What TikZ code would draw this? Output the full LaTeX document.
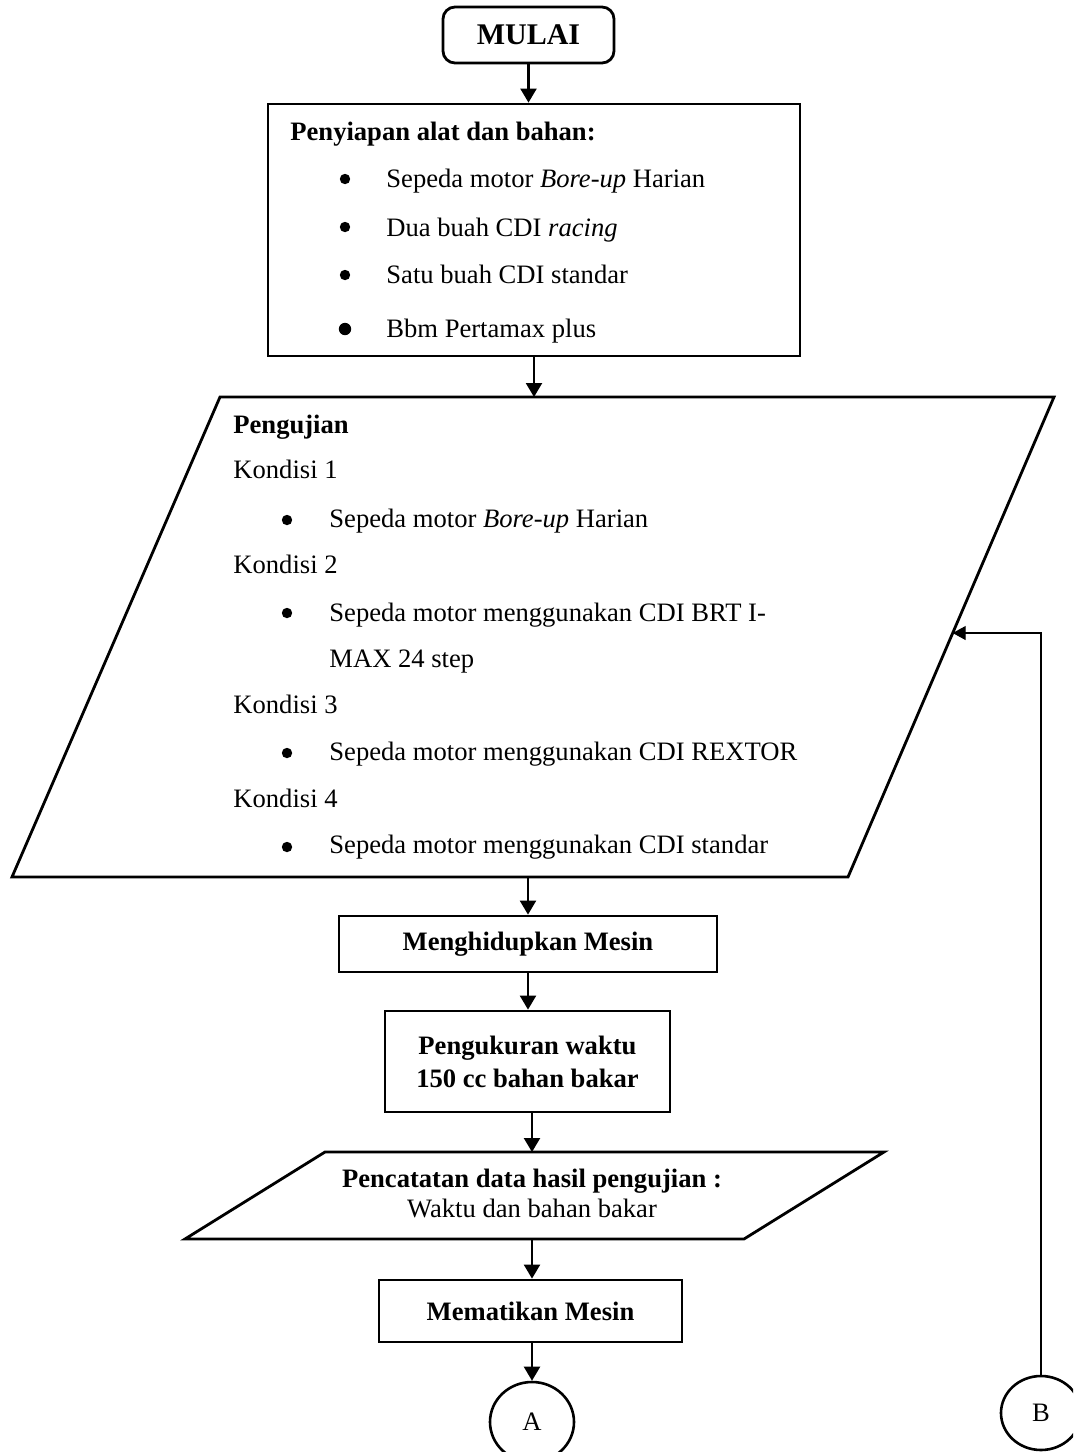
\documentclass[tikz,border=0pt]{standalone}
\usepackage{fontspec}
\setmainfont{Liberation Serif}
\usetikzlibrary{arrows.meta,calc,shapes.geometric}
\begin{document}
\begin{tikzpicture}[x=0.5pt,y=-0.5pt,
  every node/.style={font=\fontsize{13.3}{16.5}\selectfont, inner sep=0pt},
  box/.style={draw, rectangle, line width=1.4pt, inner sep=0pt},
  shape line/.style={line width=1.4pt, line join=miter},
  arr/.style={-{Triangle[length=7pt,width=8pt]}, line width=1.1pt},
  thinarr/.style={-{Triangle[length=6.5pt,width=7pt]}, line width=0.6pt},
  txt/.style={anchor=base west},
  bfnode/.style={font=\fontsize{13.3}{16.5}\selectfont\bfseries},
  bul/.style={circle, fill=black, minimum size=5.2pt},
  bigbul/.style={circle, fill=black, minimum size=6.2pt},
  conn/.style={draw, ellipse, line width=1.3pt, inner sep=0pt},
]
\clip (0,0) rectangle (1073,1452);
\fill[white] (0,0) rectangle (1073,1452);

% start terminal
\node[box, rounded corners=6pt, minimum width=85.5pt, minimum height=28pt,
      font=\fontsize{15}{18}\selectfont\bfseries] (mulai) at (528.5,35) {MULAI};

% preparation box
\node[box, minimum width=266pt, minimum height=126pt] (prep) at (534,230) {};
\node[txt, bfnode] (prep-h) at (290,140) {Penyiapan alat dan bahan:};
\node[bul] (pb1) at (345,179) {};
\node[txt] (pt1) at (386,187) {Sepeda motor \textit{Bore-up} Harian};
\node[bul] (pb2) at (345,227) {};
\node[txt] (pt2) at (386,236) {Dua buah CDI \textit{racing}};
\node[bul] (pb3) at (345,275) {};
\node[txt] (pt3) at (386,283) {Satu buah CDI standar};
\node[bigbul] (pb4) at (345,329) {};
\node[txt] (pt4) at (386,337) {Bbm Pertamax plus};

% testing conditions (input/output parallelogram)
\coordinate (uji-tl) at (220,397);
\coordinate (uji-tr) at (1054,397);
\coordinate (uji-br) at (848,877);
\coordinate (uji-bl) at (12,877);
\draw[shape line] (uji-tl) -- (uji-tr) -- (uji-br) -- (uji-bl) -- cycle;
\coordinate (uji-n) at (534,397);
\coordinate (uji-s) at (528,877);
\coordinate (uji-e) at ($(uji-tr)!0.4917!(uji-br)$);

\node[txt, bfnode] (uh) at (233,433) {Pengujian};
\node[txt] (k1) at (233,478) {Kondisi 1};
\node[bul] (ub1) at (287,520) {};
\node[txt] (ut1) at (329,527) {Sepeda motor \textit{Bore-up} Harian};
\node[txt] (k2) at (233,573) {Kondisi 2};
\node[bul] (ub2) at (287,613) {};
\node[txt] (ut2) at (329,621) {Sepeda motor menggunakan CDI BRT I-};
\node[txt] (ut2b) at (329,667) {MAX 24 step};
\node[txt] (k3) at (233,713) {Kondisi 3};
\node[bul] (ub3) at (287,753) {};
\node[txt] (ut3) at (329,760) {Sepeda motor menggunakan CDI REXTOR};
\node[txt] (k4) at (233,807) {Kondisi 4};
\node[bul] (ub4) at (287,847) {};
\node[txt] (ut4) at (329,853) {Sepeda motor menggunakan CDI standar};

% process steps
\node[box, minimum width=189pt, minimum height=28pt, bfnode] (hidup) at (528,944)
      {Menghidupkan Mesin};
\node[box, minimum width=142.5pt, minimum height=50.5pt, bfnode, align=center]
      (ukur) at (527.5,1061.5) {Pengukuran waktu\\150 cc bahan bakar};

% data recording parallelogram
\coordinate (cat-tl) at (325,1152);
\coordinate (cat-tr) at (884,1152);
\coordinate (cat-br) at (744,1239);
\coordinate (cat-bl) at (185,1239);
\draw[shape line] (cat-tl) -- (cat-tr) -- (cat-br) -- (cat-bl) -- cycle;
\coordinate (cat-n) at (532,1152);
\coordinate (cat-s) at (532,1239);
\node[anchor=base, bfnode] (cat1) at (532,1187) {Pencatatan data hasil pengujian :};
\node[anchor=base] (cat2) at (532,1217) {Waktu dan bahan bakar};

\node[box, minimum width=151.5pt, minimum height=31pt, bfnode] (mati) at (530.5,1311)
      {Mematikan Mesin};

% off-page connectors
\node[conn, minimum width=42pt, minimum height=40pt] (A) at (532,1422) {A};
\node[conn, minimum width=40pt, minimum height=37pt] (B) at (1041,1413) {B};

% flow lines
\draw[arr] (mulai.south) -- (mulai.south |- prep.north);
\draw[arr] (prep.south) -- (prep.south |- uji-n);
\draw[arr] (hidup.north |- uji-s) -- (hidup.north);
\draw[arr] (hidup.south) -- (hidup.south |- ukur.north);
\draw[arr] (ukur.south -| cat-n) -- (cat-n);
\draw[arr] (cat-s) -- (cat-s |- mati.north);
\draw[arr] (mati.south -| A.north) -- (A.north);
\draw[thinarr] (B.north) -- (B.north |- uji-e) -- (uji-e);
\end{tikzpicture}
\end{document}
